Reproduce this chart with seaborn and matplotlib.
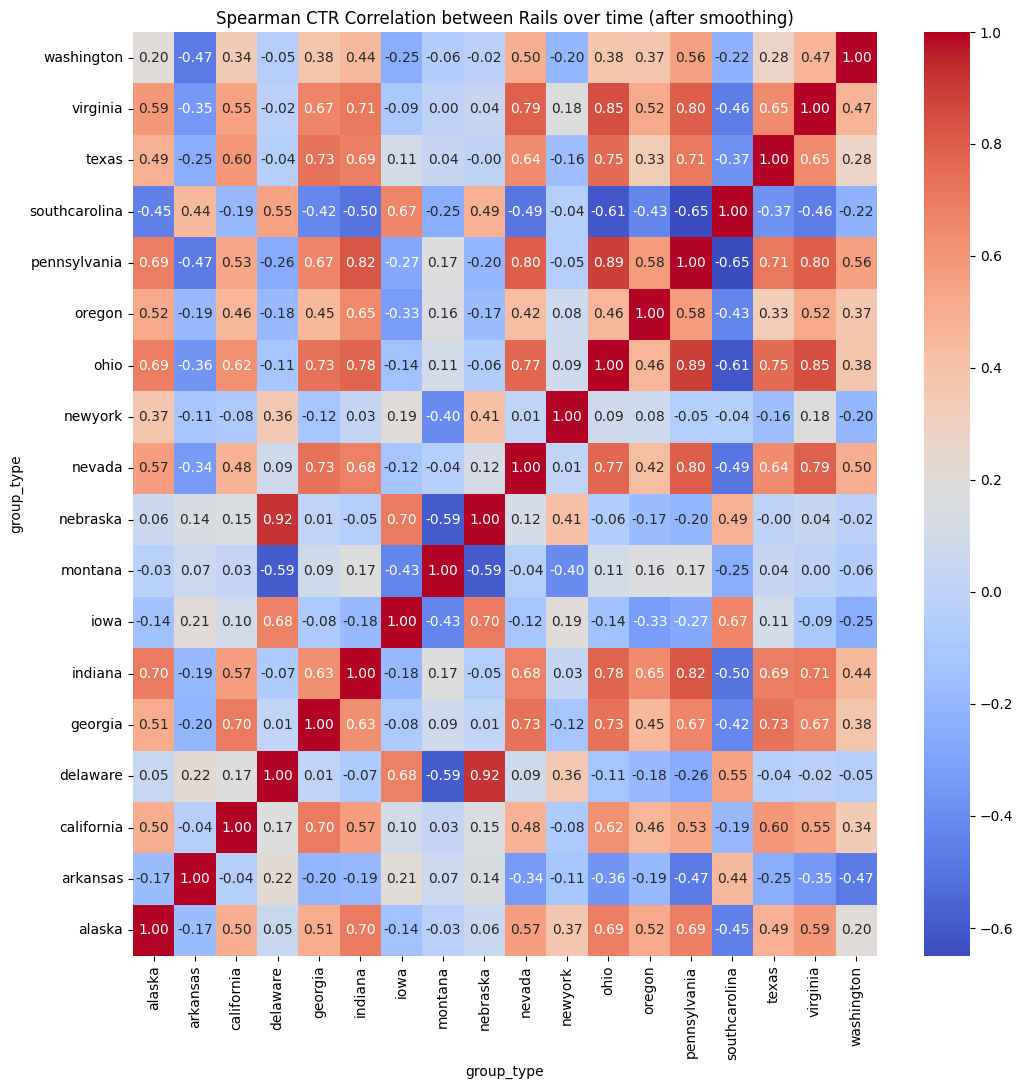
import numpy as np
import pandas as pd
import seaborn as sns
from matplotlib import pyplot as plt

states = ['alaska', 'arkansas', 'california', 'delaware', 'georgia', 'indiana', 'iowa',
          'montana', 'nebraska', 'nevada', 'newyork', 'ohio', 'oregon', 'pennsylvania',
          'southcarolina', 'texas', 'virginia', 'washington']

# correlation rows, same order as states
alaska = [1.00, -0.17, 0.50, 0.05, 0.51, 0.70, -0.14, -0.03, 0.06, 0.57, 0.37, 0.69, 0.52, 0.69, -0.45, 0.49, 0.59, 0.20]
arkansas = [-0.17, 1.00, -0.04, 0.22, -0.20, -0.19, 0.21, 0.07, 0.14, -0.34, -0.11, -0.36, -0.19, -0.47, 0.44, -0.25, -0.35, -0.47]
california = [0.50, -0.04, 1.00, 0.17, 0.70, 0.57, 0.10, 0.03, 0.15, 0.48, -0.08, 0.62, 0.46, 0.53, -0.19, 0.60, 0.55, 0.34]
delaware = [0.05, 0.22, 0.17, 1.00, 0.01, -0.07, 0.68, -0.59, 0.92, 0.09, 0.36, -0.11, -0.18, -0.26, 0.55, -0.04, -0.02, -0.05]
georgia = [0.51, -0.20, 0.70, 0.01, 1.00, 0.63, -0.08, 0.09, 0.01, 0.73, -0.12, 0.73, 0.45, 0.67, -0.42, 0.73, 0.67, 0.38]
indiana = [0.70, -0.19, 0.57, -0.07, 0.63, 1.00, -0.18, 0.17, -0.05, 0.68, 0.03, 0.78, 0.65, 0.82, -0.50, 0.69, 0.71, 0.44]
iowa = [-0.14, 0.21, 0.10, 0.68, -0.08, -0.18, 1.00, -0.43, 0.70, -0.12, 0.19, -0.14, -0.33, -0.27, 0.67, 0.11, -0.09, -0.25]
montana = [-0.03, 0.07, 0.03, -0.59, 0.09, 0.17, -0.43, 1.00, -0.59, -0.04, -0.40, 0.11, 0.16, 0.17, -0.25, 0.04, 0.00, -0.06]
nebraska = [0.06, 0.14, 0.15, 0.92, 0.01, -0.05, 0.70, -0.59, 1.00, 0.12, 0.41, -0.06, -0.17, -0.20, 0.49, -0.001, 0.04, -0.02]
nevada = [0.57, -0.34, 0.48, 0.09, 0.73, 0.68, -0.12, -0.04, 0.12, 1.00, 0.01, 0.77, 0.42, 0.80, -0.49, 0.64, 0.79, 0.50]
newyork = [0.37, -0.11, -0.08, 0.36, -0.12, 0.03, 0.19, -0.40, 0.41, 0.01, 1.00, 0.09, 0.08, -0.05, -0.04, -0.16, 0.18, -0.20]
ohio = [0.69, -0.36, 0.62, -0.11, 0.73, 0.78, -0.14, 0.11, -0.06, 0.77, 0.09, 1.00, 0.46, 0.89, -0.61, 0.75, 0.85, 0.38]
oregon = [0.52, -0.19, 0.46, -0.18, 0.45, 0.65, -0.33, 0.16, -0.17, 0.42, 0.08, 0.46, 1.00, 0.58, -0.43, 0.33, 0.52, 0.37]
pennsylvania = [0.69, -0.47, 0.53, -0.26, 0.67, 0.82, -0.27, 0.17, -0.20, 0.80, -0.05, 0.89, 0.58, 1.00, -0.65, 0.71, 0.80, 0.56]
southcarolina = [-0.45, 0.44, -0.19, 0.55, -0.42, -0.50, 0.67, -0.25, 0.49, -0.49, -0.04, -0.61, -0.43, -0.65, 1.00, -0.37, -0.46, -0.22]
texas = [0.49, -0.25, 0.60, -0.04, 0.73, 0.69, 0.11, 0.04, -0.001, 0.64, -0.16, 0.75, 0.33, 0.71, -0.37, 1.00, 0.65, 0.28]
virginia = [0.59, -0.35, 0.55, -0.02, 0.67, 0.71, -0.09, 0.00, 0.04, 0.79, 0.18, 0.85, 0.52, 0.80, -0.46, 0.65, 1.00, 0.47]
washington = [0.20, -0.47, 0.34, -0.05, 0.38, 0.44, -0.25, -0.06, -0.02, 0.50, -0.20, 0.38, 0.37, 0.56, -0.22, 0.28, 0.47, 1.00]

rows = [alaska, arkansas, california, delaware, georgia, indiana, iowa, montana, nebraska,
        nevada, newyork, ohio, oregon, pennsylvania, southcarolina, texas, virginia, washington]
corr = pd.DataFrame(rows, index=states, columns=states)
corr.index.name = 'group_type'
corr.columns.name = 'group_type'

W, H = 1023, 1089
fig = plt.figure(figsize=(W / 100, H / 100), dpi=100)
ax = fig.add_axes([133 / W, 1 - 956 / H, (877 - 133) / W, (956 - 32) / H])
cax = fig.add_axes([924 / W, 1 - 956 / H, (970 - 924) / W, (956 - 32) / H])

sns.heatmap(corr, annot=True, fmt='.2f', cmap='coolwarm', ax=ax, cbar_ax=cax)
ax.invert_yaxis()
ax.set_title('Spearman CTR Correlation between Rails over time (after smoothing)')

plt.savefig('out.png', dpi=100)
